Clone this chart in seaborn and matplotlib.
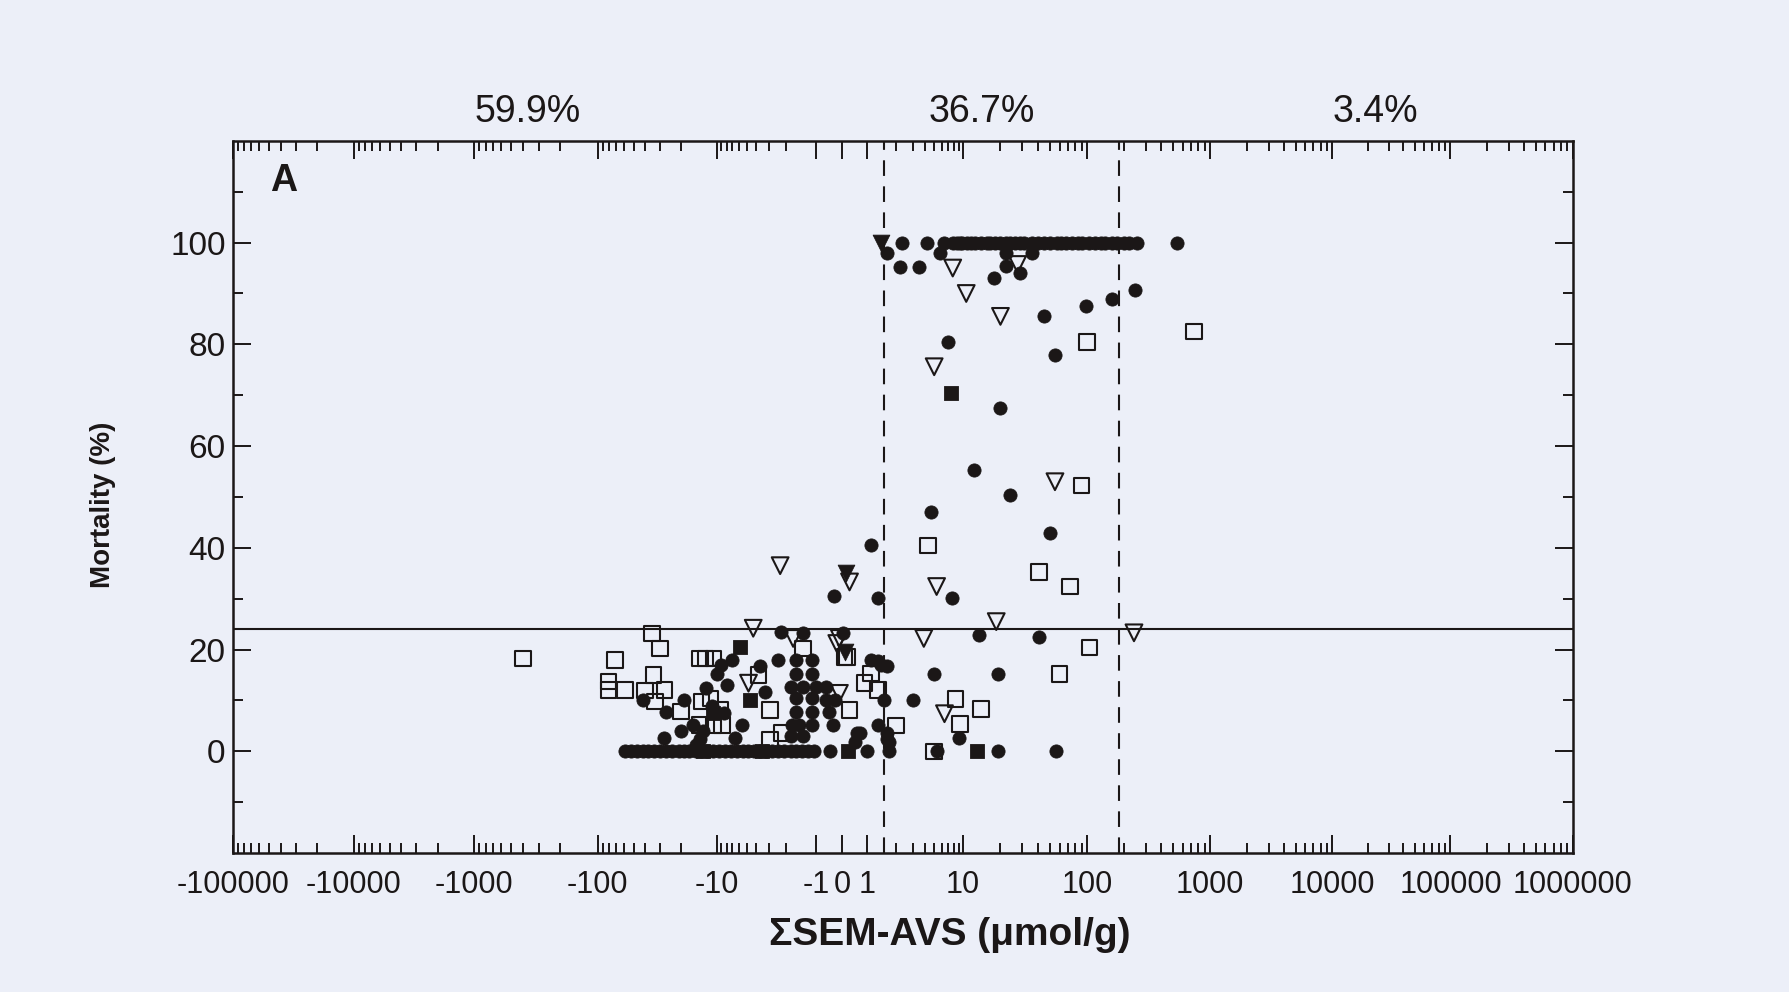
import numpy as np
import matplotlib
matplotlib.use("Agg")
import matplotlib.pyplot as plt
import matplotlib.ticker as mticker
import seaborn as sns

sns.set_theme(style="ticks")
plt.rcParams['font.family'] = ['Liberation Sans', 'DejaVu Sans']

# Data (x = SEM-AVS in umol/g, y = mortality %)
# ================================================================
circ_top_x = [2.3, 4.2, 6.4, 7.8, 8.6, 9.2, 9.7, 10.8, 11.6, 12.5, 14, 15.5, 16.6, 18, 20,
              22, 24, 26, 29, 31, 36, 40, 45, 50, 57, 62, 68, 75, 84, 90, 104, 115, 129,
              140, 160, 175, 198, 220, 255, 538]
circ_zero_x = [-59, -53, -47, -42, -38, -34, -30, -27, -24, -21, -19, -17, -15, -13.5, -12,
               -10.8, -9.5, -8.2, -7.2, -6.3, -5.5, -4.8, -4.2, -3.7, -3.2, -2.8, -2.4,
               -2.1, -1.8, -1.6, -1.4, -1.2, -1.05, -0.46, 1.0, 1.7, 5.3, 19, 56]
circ_x = [1.6, 5.8, 22, 36, 2.2, 3.5, 22, 28.8, 17.8, 45, 98, 160, 245, 7.0, 55, 20, 12.2,
          23.8, 4.6, 1.1, 50, 7.6, 1.3, -0.3, 13.4, 41, 5.0, 19, 3.0, 9,
          1.3, 1.6, 1.5, 1.3, 1.6, 0.7, 1.6, 0.6, 1.7, 0.5, 1.1, 1.4,
          -41.6, -26.7, -19, -7.1, -10, -3.65, -3.3, -7.9, -12.4, -5.6, -16, -6.5, -27.7,
          -14, -15, -2.25, -1.35, 0.04, -1.6, -1.1, -2.4, -1.6, -1.1, -1.8, -1.35, -1.0,
          -0.6, -1.6, -1.1, -0.6, -0.26, -1.6, -1.1, -0.5, -1.75, -1.5, -1.1, -0.35, -1.8,
          -1.35, -9, -11, -8.5, -13, -20]
circ_y = [98, 98, 98, 98, 95.3, 95.3, 95.5, 94, 93, 85.5, 87.5, 89, 90.6, 80.5, 78, 67.5, 55.3,
          50.3, 47, 40.5, 43, 30.2, 30.2, 30.6, 22.8, 22.4, 15.2, 15.2, 10, 2.7,
          17.7, 16.8, 10, 5.1, 3.6, 3.6, 2.5, 3.6, 1.9, 1.9, 17.9, 17,
          10, 7.8, 10, 17.9, 15.3, 16.8, 11.7, 13, 12.4, 5.2, 5.2, 2.7, 2.7,
          2.5, 1.2, 23.5, 23.2, 23.2, 17.9, 17.9, 17.9, 15.3, 15.3, 12.7, 12.7, 12.7,
          12.7, 10.5, 10.5, 10, 10, 7.8, 7.8, 7.8, 5.2, 5.2, 5.2, 5.2, 3.1,
          3.1, 17, 9, 7.5, 4, 4]

osq_x = [-400, -72, -35, -30, -81, -81, -59, -34, -27.5, -40, -33, -20, -13.9, -12.5, -10.7,
         -11.3, -13.5, -2.9, -9.2, -13.9, -10.7, -8.9, -2.9, -2.2, -1.35, 0.1, 0.2, 1.1, 0.9,
         1.3, 0.3, 2.0, 740, 100, 90, 4.3, 41, 73, 104, 60, 8.3, 14, 9.3, 5.0, -3.8]
osq_y = [18.3, 18, 23.2, 20.2, 13.7, 12.1, 12.1, 15, 12.1, 12, 9.8, 7.8, 18.3, 18.3, 18.3,
         10.4, 9.8, 8.1, 8.1, 5.2, 5.2, 5.2, 2.2, 3.6, 20.2, 18.6, 18.6, 15.3, 13.4,
         12.1, 8.1, 5.1, 82.5, 80.5, 52.3, 40.5, 35.3, 32.4, 20.4, 15.2, 10.3, 8.3, 5.4, 0, 15]

otri_x = [-2.3, 0.3, -4.3, -1.7, -0.1, 3.9, -0.2, -4.8, -0.1, 5.3, 18.5, 240, 55, 6.4, 7.8,
          27.5, 10.6, 20, 5.0]
otri_y = [36.5, 33.3, 24.2, 22.2, 22.2, 22.2, 21.2, 13.4, 11.4, 32.4, 25.5, 23.3, 53, 7.4, 95,
          95.7, 90, 85.5, 75.6]

fsq_x = [-5.8, -4.6, 0.23, 12.9, 7.4, -13, -3.5, -10.8]
fsq_y = [20.6, 10, 0, 0, 70.5, 0, 0, 7.5]

ftri_x = [1.4, 0.15, 0.1]
ftri_y = [100, 35, 19.5]

xticks = [-1e5, -1e4, -1e3, -100, -10, -1, 0, 1, 10, 100, 1e3, 1e4, 1e5, 1e6]
xtick_labels = ["-100000", "-10000", "-1000", "-100", "-10", "-1", "0", "1", "10", "100",
                "1000", "10000", "100000", "1000000"]
yticks = [0, 20, 40, 60, 80, 100]
region_pct = ["59.9%", "36.7%", "3.4%"]
bounds = [1.5, 180]
mort_cut = 24

# the original x axis is a hand-made two-sided log axis: the decades next to
# zero are narrower than the others, so the scale is calibrated per decade
scale_vals = [-1e7] + xticks + [1e8]
scale_len = [-9, 233, 354, 474, 598, 717, 816, 842, 867, 963, 1087, 1210, 1332, 1450, 1572, 1816]


def to_dec(x):
    x = np.asarray(x, float)
    a = np.abs(x)
    return np.where(a < 1, x, np.sign(x) * (np.log10(np.maximum(a, 1)) + 1))


def from_dec(d):
    d = np.asarray(d, float)
    return np.where(np.abs(d) < 1, d, np.sign(d) * 10 ** (np.abs(d) - 1))


dec_knots = to_dec(scale_vals)


def fwd(x):
    return np.interp(to_dec(x), dec_knots, scale_len)


def inv(p):
    return from_dec(np.interp(p, scale_len, dec_knots))


ink = '#1b1717'
bg = '#eceff8'

fig = plt.figure(figsize=(17.89, 9.92), dpi=100)
fig.patch.set_facecolor(bg)
ax = fig.add_axes([0.130, 0.140, 0.749, 0.718])
ax.set_facecolor(bg)
ax.set_xscale('function', functions=(fwd, inv))


def draw(xs, ys, marker, size, filled):
    sns.scatterplot(x=xs, y=ys, marker=marker, s=size, color=ink, edgecolor=ink,
                    linewidth=0.6 if filled else 1.5, ax=ax, zorder=3, legend=False)
    if not filled:
        ax.collections[-1].set_facecolor('none')


draw(circ_top_x, [100] * len(circ_top_x), 'o', 90, True)
draw(circ_zero_x, [0] * len(circ_zero_x), 'o', 90, True)
draw(circ_x, circ_y, 'o', 90, True)
draw(osq_x, osq_y, 's', 125, False)
draw(otri_x, otri_y, 'v', 145, False)
draw(fsq_x, fsq_y, 's', 100, True)
draw(ftri_x, ftri_y, 'v', 145, True)

for b in bounds:
    ax.axvline(b, color=ink, lw=1.5, ls=(0, (7.5, 5)), zorder=2)
ax.axhline(mort_cut, color=ink, lw=1.5, zorder=2)

ax.set_xlim(-1e5, 1e6)
ax.set_ylim(-20, 120)
ax.xaxis.set_major_locator(mticker.FixedLocator(xticks))
ax.xaxis.set_major_formatter(mticker.FixedFormatter(xtick_labels))
ax.xaxis.set_minor_locator(mticker.SymmetricalLogLocator(linthresh=1, base=10,
                                                         subs=np.arange(2, 10)))
ax.yaxis.set_major_locator(mticker.FixedLocator(yticks))
ax.yaxis.set_minor_locator(mticker.FixedLocator([-10, 10, 30, 50, 70, 90, 110]))

ax.tick_params(which='both', direction='in', top=True, right=True, color=ink, width=1.4)
ax.tick_params(which='major', length=13)
ax.tick_params(which='minor', length=7)
ax.tick_params(axis='x', labelsize=22, pad=12.5, labelcolor=ink)
ax.tick_params(axis='y', labelsize=24, pad=5, labelcolor=ink)
for sp in ax.spines.values():
    sp.set_linewidth(1.8)
    sp.set_color(ink)

ax.set_xlabel("ΣSEM-AVS (μmol/g)", fontsize=28, fontweight='bold', color=ink)
ax.xaxis.set_label_coords(0.535, -0.09)
ax.set_ylabel("Mortality (%)", fontsize=20, fontweight='bold', color=ink)
ax.yaxis.set_label_coords(-0.087, 0.489)

for xp, txt in zip([0.22, 0.559, 0.853], region_pct):
    ax.text(xp, 1.041, txt, transform=ax.transAxes, ha='center', va='center',
            fontsize=27, color=ink)
ax.text(0.038, 0.943, "A", transform=ax.transAxes, ha='center', va='center',
        fontsize=27, fontweight='bold', color=ink)

fig.savefig('out.png', dpi=100, facecolor=fig.get_facecolor())
plt.close()
